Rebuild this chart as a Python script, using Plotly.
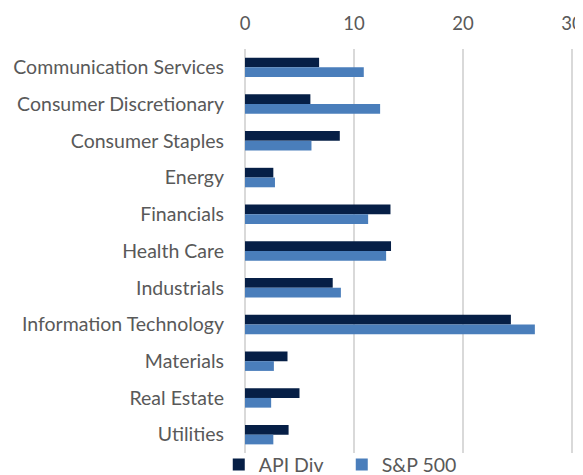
import plotly.graph_objects as go

categories = ["Communication Services", "Consumer Discretionary", "Consumer Staples",
              "Energy", "Financials", "Health Care", "Industrials",
              "Information Technology", "Materials", "Real Estate", "Utilities"]
api_div = [6.8, 6.0, 8.7, 2.6, 13.35, 13.4, 8.05, 24.4, 3.9, 5.0, 4.0]
sp500 = [10.9, 12.4, 6.1, 2.75, 11.3, 12.95, 8.8, 26.6, 2.65, 2.4, 2.6]
x_ticks = [0, 10, 20, 30]

FONT = "Lato"
GRAY = "#595959"
FS = 19.5

fig = go.Figure()
fig.add_trace(go.Bar(y=categories, x=api_div, name="API Div", orientation="h",
                     marker=dict(color="#061F46", line=dict(width=0))))
fig.add_trace(go.Bar(y=categories, x=sp500, name="S&P 500", orientation="h",
                     marker=dict(color="#4A7EBB", line=dict(width=0))))

# page body has an 8px margin, so the figure is 8px smaller and margins shifted
fig.update_layout(
    width=575, height=467,
    margin=dict(l=237, r=10, t=41, b=22, autoexpand=False),
    paper_bgcolor="white", plot_bgcolor="white",
    barmode="group", bargap=0.47, bargroupgap=0,
    font=dict(family=FONT, size=FS, color=GRAY),
    showlegend=True,
    legend=dict(orientation="h", x=-0.08, xanchor="left",
                y=0.019, yanchor="top",
                font=dict(family=FONT, size=FS, color=GRAY),
                itemwidth=30, traceorder="normal", entrywidth=78,
                bgcolor="rgba(0,0,0,0)"),
    xaxis=dict(side="top", range=[0, 30.1], tickvals=x_ticks, ticktext=[str(v) for v in x_ticks],
               showgrid=True, gridcolor="#D9D9D9", gridwidth=1.5,
               zeroline=True, zerolinecolor="#D9D9D9", zerolinewidth=1.5,
               showline=False, ticks="", ticklabelstandoff=14, automargin=False,
               ticklabeloverflow="allow",
               tickfont=dict(family=FONT, size=18.5, color=GRAY)),
    yaxis=dict(autorange="reversed", showgrid=False, zeroline=False, showline=False,
               ticks="", ticklabelstandoff=20, automargin=False,
               tickfont=dict(family=FONT, size=FS, color=GRAY)),
)

fig.write_html("out.html")
